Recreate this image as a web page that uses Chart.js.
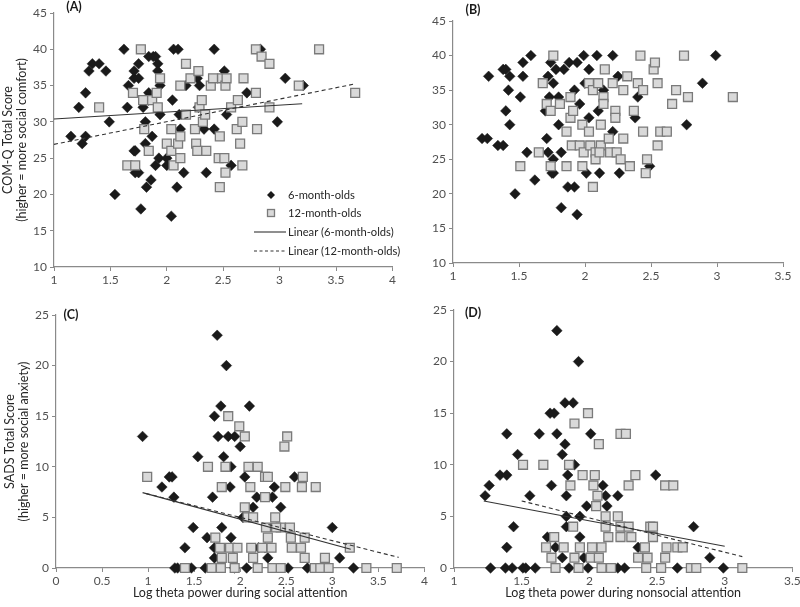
<!DOCTYPE html>
<html><head><meta charset="utf-8">
<script src="https://cdn.jsdelivr.net/npm/chart.js@4"></script>
<style>
html,body{margin:0;padding:0;background:#fff;}
#wrap{position:relative;width:800px;height:607px;overflow:hidden;background:#fff;}
canvas{position:absolute;}
</style></head><body>
<div id="wrap">
<canvas id="cA" width="400" height="300" style="left:0;top:0"></canvas>
<canvas id="cB" width="400" height="300" style="left:400px;top:0"></canvas>
<canvas id="cC" width="432" height="307" style="left:0;top:300px"></canvas>
<canvas id="cD" width="372" height="307" style="left:428px;top:300px"></canvas>
</div>
<script>
// ---------- DATA ----------
const seriesNames = ["6-month-olds", "12-month-olds", "Linear (6-month-olds)", "Linear (12-month-olds)"];

const A_6mo = [[1.15,28],[1.22,32],[1.25,27],[1.28,28],[1.28,34],[1.31,37],[1.34,38],[1.40,38],[1.46,37],[1.49,30],[1.54,20],[1.62,40],[1.65,32],[1.66,35],[1.71,36],[1.71,37],[1.75,36],[1.75,38],[1.71,26],[1.72,26],[1.72,23],[1.75,23],[1.77,18],[1.79,32],[1.81,30],[1.81,27],[1.82,21],[1.84,39],[1.88,39],[1.90,39],[1.92,38],[1.92,37],[1.87,28],[1.86,22],[1.84,34],[1.84,33],[1.90,24],[1.93,25],[1.94,31],[1.94,35],[2.00,25],[2.00,24],[2.04,17],[2.05,33],[2.06,40],[2.10,40],[2.09,21],[2.12,29],[2.15,23],[2.11,31],[2.17,35],[2.27,36],[2.29,35],[2.28,32],[2.35,23],[2.33,29],[2.42,40],[2.42,29],[2.51,37],[2.53,31],[2.57,24],[2.71,34],[2.83,40],[2.98,30],[3.05,36],[3.21,35]];
const A_12mo = [[1.40,32],[1.65,24],[1.72,24],[1.70,34],[1.77,40],[1.79,33],[1.80,29],[1.84,26],[1.87,33],[1.91,34],[1.92,32],[1.94,36],[2.00,27],[2.04,29],[2.04,26],[2.06,24],[2.10,27],[2.12,28],[2.12,25],[2.12,35],[2.17,38],[2.17,31],[2.21,36],[2.25,29],[2.26,27],[2.28,37],[2.27,26],[2.29,32],[2.31,33],[2.32,30],[2.34,31],[2.35,26],[2.39,35],[2.41,36],[2.47,21],[2.47,28],[2.46,25],[2.49,36],[2.51,25],[2.52,35],[2.53,36],[2.52,23],[2.57,32],[2.63,33],[2.62,29],[2.65,27],[2.67,30],[2.68,36],[2.67,24],[2.79,34],[2.80,29],[2.79,40],[2.84,39],[2.91,38],[2.91,32],[3.17,35],[3.35,40],[3.67,34]];
const A_fit6 = [[1.0,30.4],[3.2,32.5]];
const A_fit12 = [[1.0,26.9],[3.66,35.2]];

const B_6mo = [[1.22,28],[1.26,28],[1.27,37],[1.34,27],[1.38,27],[1.38,38],[1.40,38],[1.40,32],[1.42,35],[1.43,30],[1.43,37],[1.47,20],[1.51,34],[1.53,39],[1.53,37],[1.56,26],[1.59,40],[1.62,22],[1.70,32],[1.71,28],[1.72,26],[1.72,37],[1.73,34],[1.74,39],[1.75,23],[1.76,36],[1.76,23],[1.78,38],[1.76,25],[1.80,30],[1.80,34],[1.82,18],[1.82,26],[1.84,38],[1.87,21],[1.88,39],[1.92,21],[1.92,35],[1.94,39],[1.94,17],[1.96,33],[1.99,40],[2.01,23],[2.03,31],[2.03,38],[2.00,36],[2.09,40],[2.10,32],[2.11,23],[2.14,35],[2.21,40],[2.21,29],[2.25,37],[2.26,23],[2.40,34],[2.38,31],[2.49,24],[2.89,36],[2.77,30],[2.99,40]];
const B_12mo = [[1.51,24],[1.65,26],[1.68,36],[1.71,33],[1.74,32],[1.76,40],[1.74,24],[1.81,33],[1.86,24],[1.86,29],[1.89,31],[1.89,34],[1.91,32],[1.90,27],[1.96,27],[1.98,30],[1.98,24],[1.99,26],[2.03,29],[2.03,36],[2.04,27],[2.06,35],[2.08,26],[2.08,25],[2.10,36],[2.12,30],[2.12,27],[2.11,26],[2.14,34],[2.14,33],[2.15,38],[2.18,28],[2.19,26],[2.21,36],[2.23,32],[2.23,31],[2.24,26],[2.27,25],[2.29,28],[2.29,35],[2.32,37],[2.34,24],[2.37,32],[2.40,36],[2.42,40],[2.44,35],[2.44,29],[2.46,23],[2.47,25],[2.52,38],[2.53,39],[2.55,36],[2.55,27],[2.57,29],[2.62,29],[2.66,33],[2.69,35],[2.75,40],[2.78,34],[3.12,34],[2.06,21]];

const C_6mo = [[0.94,13],[1.15,8],[1.23,9],[1.26,9],[1.28,7],[1.29,0],[1.32,0],[1.40,2],[1.47,0],[1.49,4],[1.54,11],[1.64,3],[1.62,0],[1.70,7],[1.72,15],[1.75,23],[1.76,13],[1.79,16],[1.80,4],[1.82,11],[1.85,20],[1.87,13],[1.89,8],[1.90,10],[1.90,3],[1.94,13],[2.00,12],[2.05,9],[2.07,0],[2.10,16],[2.14,6],[2.18,7],[1.94,0],[2.35,7],[2.37,8],[2.30,1],[2.44,6],[2.52,0],[2.59,9],[2.73,0],[3.00,4],[3.08,1],[3.23,0],[2.03,5],[1.72,1],[1.72,2],[2.20,2],[2.27,2]];
const C_12mo = [[0.99,9],[1.40,0],[1.65,10],[1.69,0],[1.73,3],[1.78,2],[1.80,8],[1.80,1],[1.79,0],[1.84,10],[1.87,15],[1.89,2],[1.92,1],[1.94,0],[1.97,2],[1.99,14],[2.05,13],[2.05,6],[2.08,5],[2.09,10],[2.11,8],[2.12,2],[2.14,5],[2.14,1],[2.19,10],[2.19,0],[2.24,2],[2.27,9],[2.27,7],[2.30,9],[2.28,4],[2.30,3],[2.34,2],[2.35,0],[2.38,5],[2.44,4],[2.44,0],[2.48,12],[2.51,13],[2.49,8],[2.54,4],[2.55,3],[2.56,2],[2.66,2],[2.67,8],[2.68,9],[2.70,3],[2.70,1],[2.81,0],[2.82,8],[2.87,0],[2.92,1],[2.96,0],[3.19,2],[3.37,0],[3.70,0],[2.39,4]];
const C_fit6 = [[0.94,7.45],[3.2,1.85]];
const C_fit12 = [[0.98,7.35],[3.72,1.05]];

const D_6mo = [[1.23,7],[1.26,8],[1.27,0],[1.34,9],[1.39,13],[1.39,9],[1.39,2],[1.38,0],[1.43,0],[1.44,4],[1.47,11],[1.51,0],[1.53,0],[1.56,7],[1.60,0],[1.63,13],[1.69,3],[1.71,15],[1.72,8],[1.74,15],[1.75,2],[1.76,23],[1.76,13],[1.80,11],[1.80,1],[1.82,12],[1.82,16],[1.83,7],[1.83,5],[1.83,4],[1.84,9],[1.85,0],[1.88,16],[1.89,10],[1.92,20],[1.93,5],[1.93,3],[1.96,1],[1.98,6],[1.99,0],[2.01,13],[2.10,8],[2.12,7],[2.13,6],[2.21,7],[2.21,0],[2.26,0],[2.36,2],[2.49,9],[2.65,0],[2.77,4],[2.89,1],[2.99,0]];
const D_12mo = [[1.51,10],[1.66,10],[1.68,2],[1.72,1],[1.74,3],[1.75,0],[1.81,2],[1.85,10],[1.86,8],[1.89,14],[1.88,4],[1.89,1],[1.92,0],[1.93,2],[1.95,9],[1.99,15],[2.01,1],[2.02,2],[2.04,9],[2.03,8],[2.05,6],[2.06,7],[2.07,12],[2.07,1],[2.09,2],[2.09,0],[2.12,4],[2.12,5],[2.14,3],[2.16,0],[2.21,5],[2.23,13],[2.23,3],[2.23,4],[2.27,13],[2.29,8],[2.29,4],[2.31,3],[2.34,9],[2.36,1],[2.41,2],[2.42,0],[2.43,1],[2.45,4],[2.47,3],[2.47,4],[2.53,0],[2.56,1],[2.57,2],[2.56,8],[2.62,8],[2.65,2],[2.69,2],[2.75,0],[2.79,0],[3.13,0]];
const D_fit6 = [[1.22,6.5],[3.0,2.1]];
const D_fit12 = [[1.5,6.5],[3.13,1.1]];

const ticksA_x = [1,1.5,2,2.5,3,3.5,4];
const ticksB_x = [1,1.5,2,2.5,3,3.5];
const ticksC_x = [0,0.5,1,1.5,2,2.5,3,3.5,4];
const ticksD_x = [1,1.5,2,2.5,3,3.5];
const ticksAB_y = [10,15,20,25,30,35,40,45];
const ticksCD_y = [0,5,10,15,20,25];

const yTitleTop = ["COM-Q Total Score", "(higher = more social comfort)"];
const yTitleBottom = ["SADS Total Score", "(higher = more social anxiety)"];
const xTitleC = "Log theta power during social attention";
const xTitleD = "Log theta power during nonsocial attention";
const panelLabels = ["(A)", "(B)", "(C)", "(D)"];

// ---------- STYLE ----------
const FONT = "Lato, 'Open Sans', sans-serif";
const AXIS = '#8a8a8a';
const TICKC = '#505050';

const toPts = arr => arr.map(p => ({x: p[0], y: p[1]}));
const fmt = v => String(Math.round(v * 100) / 100);

const annot = {
  id: 'annot',
  afterDraw(chart, args, o) {
    const ctx = chart.ctx;
    ctx.save();
    ctx.font = 'bold 12.5px ' + FONT;
    ctx.fillStyle = '#1a1a1a';
    ctx.textAlign = 'center';
    ctx.textBaseline = 'middle';
    ctx.fillText(o.label, o.lx, o.ly);
    if (o.legend) {
      const L = o.legend;
      ctx.font = '11.2px ' + FONT;
      ctx.textAlign = 'left';
      // diamond
      ctx.beginPath();
      ctx.moveTo(L.mx, L.ys[0] - 4); ctx.lineTo(L.mx + 4, L.ys[0]);
      ctx.lineTo(L.mx, L.ys[0] + 4); ctx.lineTo(L.mx - 4, L.ys[0]); ctx.closePath();
      ctx.fillStyle = '#1a1a1a'; ctx.fill();
      // square
      ctx.fillStyle = '#d9d9d9'; ctx.strokeStyle = '#7a7a7a'; ctx.lineWidth = 1.3;
      ctx.fillRect(L.mx - 3.5, L.ys[1] - 3.5, 7, 7);
      ctx.strokeRect(L.mx - 3.5, L.ys[1] - 3.5, 7, 7);
      // lines
      ctx.strokeStyle = '#333'; ctx.lineWidth = 1.1;
      ctx.beginPath(); ctx.moveTo(L.l0, L.ys[2]); ctx.lineTo(L.l1, L.ys[2]); ctx.stroke();
      ctx.setLineDash([3, 2.5]);
      ctx.beginPath(); ctx.moveTo(L.l0, L.ys[3]); ctx.lineTo(L.l1, L.ys[3]); ctx.stroke();
      ctx.setLineDash([]);
      ctx.fillStyle = '#262626';
      for (let i = 0; i < 4; i++) ctx.fillText(seriesNames[i], L.tx, L.ys[i] + 0.5);
    }
    ctx.restore();
  }
};

function makePanel(id, c) {
  const datasets = [];
  if (c.fit6) datasets.push({data: toPts(c.fit6), showLine: true, pointRadius: 0, borderColor: '#333', borderWidth: 1.1, fill: false, clip: false});
  if (c.fit12) datasets.push({data: toPts(c.fit12), showLine: true, pointRadius: 0, borderColor: '#333', borderWidth: 1.1, borderDash: [4, 3], fill: false, clip: false});
  datasets.push({data: toPts(c.d12), pointStyle: 'rect', pointRadius: 6.3, backgroundColor: '#d9d9d9', borderColor: '#7a7a7a', borderWidth: 1.3, showLine: false, clip: false});
  datasets.push({data: toPts(c.d6), pointStyle: 'rectRot', pointRadius: 5.3, backgroundColor: '#1a1a1a', borderColor: '#1a1a1a', borderWidth: 0.5, showLine: false, clip: false});

  const xt = c.xTicks, yt = c.yTicks;
  new Chart(document.getElementById(id), {
    type: 'scatter',
    data: {datasets},
    plugins: [annot],
    options: {
      responsive: false, animation: false, devicePixelRatio: 1,
      layout: {padding: c.pad},
      plugins: {legend: {display: false}, tooltip: {enabled: false}, annot: c.annot},
      scales: {
        x: {
          type: 'linear', min: xt[0], max: xt[xt.length - 1],
          afterBuildTicks: s => { s.ticks = xt.map(v => ({value: v})); },
          afterFit: s => { s.height = c.xH; s.paddingLeft = 0; s.paddingRight = 0; },
          grid: {display: true, drawOnChartArea: false, drawTicks: true, tickLength: 4, color: AXIS, lineWidth: 1},
          border: {display: true, color: AXIS, width: 1.2},
          ticks: {font: {family: FONT, size: 12}, color: TICKC, padding: 2, maxRotation: 0, autoSkip: false, callback: fmt},
          title: {display: !!c.xTitle, text: c.xTitle || '', color: '#262626', font: {family: FONT, size: 12.5, lineHeight: '14px'}, padding: {top: 0, bottom: 7}}
        },
        y: {
          type: 'linear', min: yt[0], max: yt[yt.length - 1],
          afterBuildTicks: s => { s.ticks = yt.map(v => ({value: v})); },
          afterFit: s => { s.width = c.yW; s.paddingTop = 0; s.paddingBottom = 0; },
          grid: {display: true, drawOnChartArea: false, drawTicks: true, tickLength: 4, color: AXIS, lineWidth: 1},
          border: {display: true, color: AXIS, width: 1.2},
          ticks: {font: {family: FONT, size: 12}, color: TICKC, padding: 3, callback: fmt},
          title: {display: !!c.yTitle, text: c.yTitle || '', color: '#262626', font: {family: FONT, size: 12.5, lineHeight: '14px'}, padding: {top: c.yTitlePad || 0, bottom: 0}}
        }
      }
    }
  });
}

makePanel('cA', {
  d6: A_6mo, d12: A_12mo, fit6: A_fit6, fit12: A_fit12,
  xTicks: ticksA_x, yTicks: ticksAB_y, yTitle: yTitleTop, yTitlePad: 1,
  pad: {left: 0, top: 13, right: 3, bottom: 0}, yW: 54, xH: 33,
  annot: {label: panelLabels[0], lx: 74, ly: 7,
    legend: {mx: 271, tx: 288, l0: 254, l1: 286, ys: [195, 213, 232, 251]}}
});
makePanel('cB', {
  d6: B_6mo, d12: B_12mo,
  xTicks: ticksB_x, yTicks: ticksAB_y,
  pad: {left: 0, top: 21, right: 17, bottom: 0}, yW: 53, xH: 37,
  annot: {label: panelLabels[1], lx: 73, ly: 10}
});
makePanel('cC', {
  d6: C_6mo, d12: C_12mo, fit6: C_fit6, fit12: C_fit12,
  xTicks: ticksC_x, yTicks: ticksCD_y, yTitle: yTitleBottom, yTitlePad: 3, xTitle: xTitleC,
  pad: {left: 0, top: 15, right: 6, bottom: 0}, yW: 56, xH: 39,
  annot: {label: panelLabels[2], lx: 71, ly: 15}
});
makePanel('cD', {
  d6: D_6mo, d12: D_12mo, fit6: D_fit6, fit12: D_fit12,
  xTicks: ticksD_x, yTicks: ticksCD_y, xTitle: xTitleD,
  pad: {left: 0, top: 10, right: 6, bottom: 0}, yW: 26, xH: 39,
  annot: {label: panelLabels[3], lx: 45, ly: 13}
});
</script>
</body></html>
